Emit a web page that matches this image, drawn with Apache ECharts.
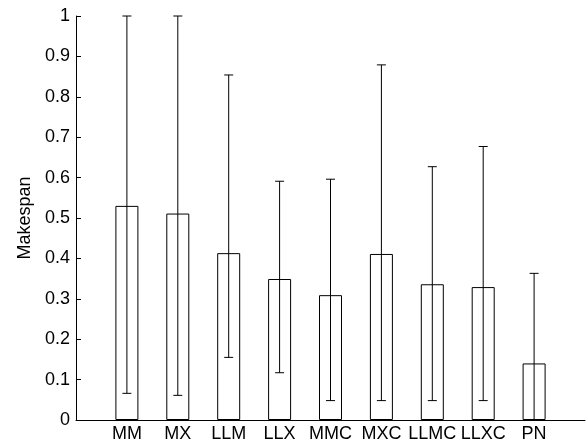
<!DOCTYPE html>
<html>
<head>
<meta charset="utf-8">
<script src="https://cdn.jsdelivr.net/npm/echarts@6/dist/echarts.min.js"></script>
<style>html,body{margin:0;padding:0;background:#fff;}#c{width:588px;height:445px;}</style>
</head>
<body>
<div id="c"></div>
<script>
var categories = ['MM', 'MX', 'LLM', 'LLX', 'MMC', 'MXC', 'LLMC', 'LLXC', 'PN'];
var means = [0.530, 0.511, 0.413, 0.349, 0.309, 0.411, 0.336, 0.329, 0.140];
var lows  = [0.066, 0.061, 0.155, 0.117, 0.048, 0.048, 0.048, 0.048, 0.000];
var highs = [1.000, 1.000, 0.854, 0.591, 0.596, 0.879, 0.627, 0.677, 0.363];
var yTicks = [0, 0.1, 0.2, 0.3, 0.4, 0.5, 0.6, 0.7, 0.8, 0.9, 1];

var axisCats = [''].concat(categories).concat(['']);
var barData = ['-'].concat(means).concat(['-']);
var errData = categories.map(function (c, i) { return [i + 1, lows[i], highs[i]]; });

var font = 'Liberation Sans, Arial, Helvetica, sans-serif';
var chart = echarts.init(document.getElementById('c'), null, {renderer: 'canvas'});
chart.setOption({
  animation: false,
  backgroundColor: '#fff',
  grid: {left: 76, right: 1, top: 16, bottom: 25, containLabel: false},
  xAxis: {
    type: 'category',
    data: axisCats,
    boundaryGap: false,
    axisLine: {show: true, lineStyle: {color: '#000', width: 1}},
    axisTick: {
      show: true, inside: true, length: 5, lineStyle: {color: '#000'},
      interval: function (idx, val) { return val !== ''; }
    },
    axisLabel: {show: true, color: '#000', fontSize: 18, fontFamily: font, margin: 5, interval: 0},
    splitLine: {show: false}
  },
  yAxis: {
    type: 'value',
    min: 0, max: 1, interval: 0.1,
    name: 'Makespan',
    nameLocation: 'middle',
    nameGap: 42,
    nameRotate: 90,
    nameTextStyle: {color: '#000', fontSize: 18, fontFamily: font},
    axisLine: {show: true, lineStyle: {color: '#000', width: 1}},
    axisTick: {show: true, inside: true, length: 5, lineStyle: {color: '#000'}},
    axisLabel: {
      color: '#000', fontSize: 18, fontFamily: font, margin: 6,
      formatter: function (v) {
        for (var i = 0; i < yTicks.length; i++) { if (Math.abs(v - yTicks[i]) < 1e-9) return String(yTicks[i]); }
        return '';
      }
    },
    splitLine: {show: false}
  },
  series: [
    {
      type: 'bar',
      data: barData,
      barWidth: 23,
      itemStyle: {color: '#fff', borderColor: '#000', borderWidth: 1},
      silent: true,
      z: 2
    },
    {
      type: 'custom',
      data: errData,
      encode: {x: 0, y: [1, 2]},
      z: 3,
      silent: true,
      renderItem: function (params, api) {
        var x = api.value(0);
        var lo = api.coord([x, api.value(1)]);
        var hi = api.coord([x, api.value(2)]);
        var hw = 4.5;
        var st = {stroke: '#000', lineWidth: 1, fill: null};
        return {
          type: 'group',
          children: [
            {type: 'line', shape: {x1: hi[0], y1: hi[1], x2: lo[0], y2: lo[1]}, style: st},
            {type: 'line', shape: {x1: hi[0] - hw, y1: hi[1], x2: hi[0] + hw, y2: hi[1]}, style: st},
            {type: 'line', shape: {x1: lo[0] - hw, y1: lo[1], x2: lo[0] + hw, y2: lo[1]}, style: st}
          ]
        };
      }
    }
  ]
});
</script>
</body>
</html>
